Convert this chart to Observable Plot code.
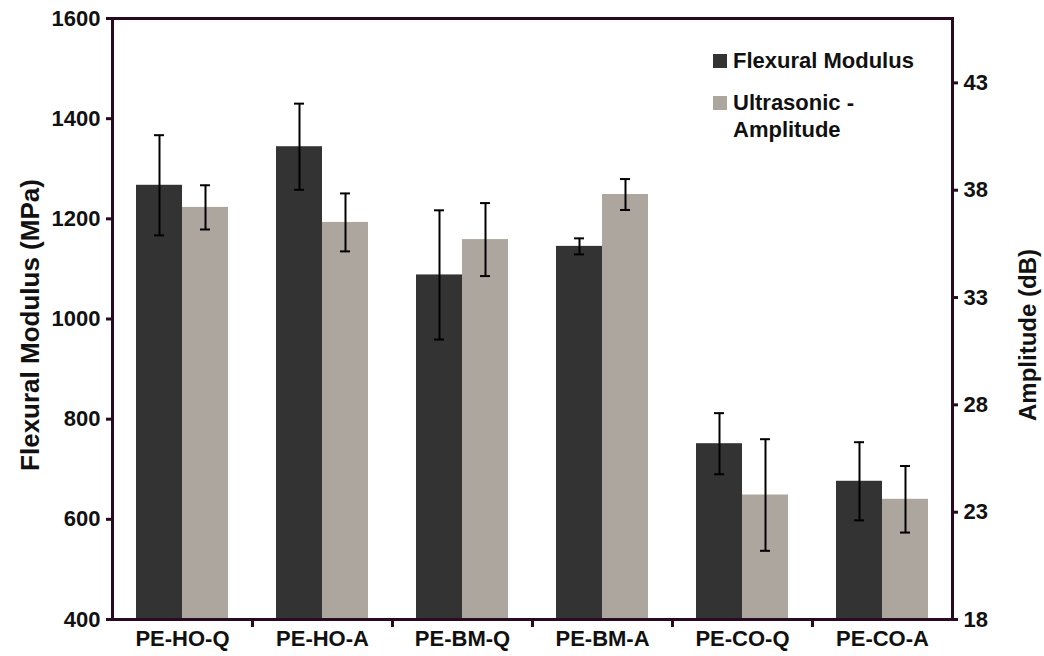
<!DOCTYPE html>
<html>
<head>
<meta charset="utf-8">
<script src="https://cdn.jsdelivr.net/npm/d3@7"></script>
<script src="https://cdn.jsdelivr.net/npm/@observablehq/plot@0.6"></script>
<style>
  html, body { margin: 0; padding: 0; background: #fff; }
  #wrap { position: relative; width: 1044px; height: 656px; font-family: "Liberation Sans", Arial, sans-serif; }
  .legend { position: absolute; left: 713px; top: 47px; font-weight: bold; font-size: 22px; color: #111; line-height: 27px; }
  .legend .item { position: relative; padding-left: 20px; }
  .legend .sw { position: absolute; left: 0; top: 7px; width: 14px; height: 14px; }
  .ytitle { position: absolute; font-weight: bold; font-size: 24px; color: #111; white-space: nowrap; transform: translate(-50%, -50%) rotate(-90deg); }
</style>
</head>
<body>
<div id="wrap"></div>
<script>
const categories = ["PE-HO-Q", "PE-HO-A", "PE-BM-Q", "PE-BM-A", "PE-CO-Q", "PE-CO-A"];
const modulus = [1267, 1344, 1088, 1145, 751, 676];
const modulusErr = [100, 86, 129, 16, 61, 78];
const amplitude = [37.2, 36.5, 35.7, 37.8, 23.8, 23.6];
const amplitudeErr = [1.03, 1.35, 1.7, 0.72, 2.6, 1.55];
const modTicks = [400, 600, 800, 1000, 1200, 1400, 1600];
const ampTicks = [18, 23, 28, 33, 38, 43];
const modDomain = [400, 1600];
const ampDomain = [18, 46];
const seriesNames = ["Flexural Modulus", "Ultrasonic - Amplitude"];
const leftTitle = "Flexural Modulus (MPa)";
const rightTitle = "Amplitude (dB)";
const colors = ["#333333", "#ada69f"];

const toLeft = d3.scaleLinear().domain(ampDomain).range(modDomain);

const modRows = categories.map((c, i) => ({cat: c, v: modulus[i], lo: modulus[i] - modulusErr[i], hi: modulus[i] + modulusErr[i]}));
const ampRows = categories.map((c, i) => ({cat: c, v: toLeft(amplitude[i]), lo: toLeft(amplitude[i] - amplitudeErr[i]), hi: toLeft(amplitude[i] + amplitudeErr[i])}));

const axisColor = "#2a0a20";
const off = 23;

const chart = Plot.plot({
  width: 1044,
  height: 656,
  marginLeft: 112,
  marginRight: 92,
  marginTop: 18,
  marginBottom: 37,
  style: {fontFamily: "'Liberation Sans', Arial, sans-serif", fontWeight: "bold", color: "#111", overflow: "visible"},
  x: {domain: categories, paddingInner: 0.6714, paddingOuter: 0.3357, axis: null},
  y: {domain: modDomain, axis: null},
  marks: [
    Plot.barY(modRows, {x: "cat", y1: modDomain[0], y2: "v", fill: colors[0], dx: -off}),
    Plot.barY(ampRows, {x: "cat", y1: modDomain[0], y2: "v", fill: colors[1], dx: off}),
    Plot.ruleX(modRows, {x: "cat", y1: "lo", y2: "hi", stroke: "#000", strokeWidth: 2, dx: -off}),
    Plot.tickY(modRows, {x: "cat", y: "lo", stroke: "#000", strokeWidth: 2, dx: -off, insetLeft: 18, insetRight: 18}),
    Plot.tickY(modRows, {x: "cat", y: "hi", stroke: "#000", strokeWidth: 2, dx: -off, insetLeft: 18, insetRight: 18}),
    Plot.ruleX(ampRows, {x: "cat", y1: "lo", y2: "hi", stroke: "#000", strokeWidth: 2, dx: off}),
    Plot.tickY(ampRows, {x: "cat", y: "lo", stroke: "#000", strokeWidth: 2, dx: off, insetLeft: 18, insetRight: 18}),
    Plot.tickY(ampRows, {x: "cat", y: "hi", stroke: "#000", strokeWidth: 2, dx: off, insetLeft: 18, insetRight: 18}),
    Plot.frame({stroke: axisColor, strokeWidth: 3}),
    // category boundary ticks on the bottom axis
    Plot.ruleX(categories.slice(0, -1), {x: d => d, dx: 70, y1: () => modDomain[0], y2: () => modDomain[0] - 16, stroke: axisColor, strokeWidth: 3}),
    Plot.axisX({tickSize: 0, tickPadding: 11, fontSize: 22, fontWeight: "bold", fill: "#111", label: null}),
    Plot.axisY(modTicks, {anchor: "left", tickSize: 6, tickPadding: 6, stroke: axisColor, strokeWidth: 3, fontSize: 22, fontWeight: "bold", fill: "#111", label: null, tickFormat: d => String(d)}),
    Plot.axisY(ampTicks.map(toLeft), {anchor: "right", tickSize: 5, tickPadding: 6, stroke: axisColor, strokeWidth: 3, fontSize: 22, fontWeight: "bold", fill: "#111", label: null, tickFormat: d => String(Math.round(toLeft.invert(d)))})
  ]
});

const wrap = document.getElementById("wrap");
wrap.appendChild(chart);
const legend = document.createElement("div");
legend.className = "legend";
legend.innerHTML = `<div class="item"><span class="sw" style="background:${colors[0]}"></span>${seriesNames[0]}</div><div class="item" style="margin-top:15px"><span class="sw" style="background:${colors[1]}"></span>Ultrasonic -<br>Amplitude</div>`;
wrap.appendChild(legend);

const lt = document.createElement("div");
lt.className = "ytitle";
lt.style.left = "30px"; lt.style.top = "325px"; lt.style.fontSize = "26px";
lt.textContent = leftTitle;
wrap.appendChild(lt);
const rt = document.createElement("div");
rt.className = "ytitle";
rt.style.left = "1028px"; rt.style.top = "335px";
rt.textContent = rightTitle;
wrap.appendChild(rt);
</script>
</body>
</html>
